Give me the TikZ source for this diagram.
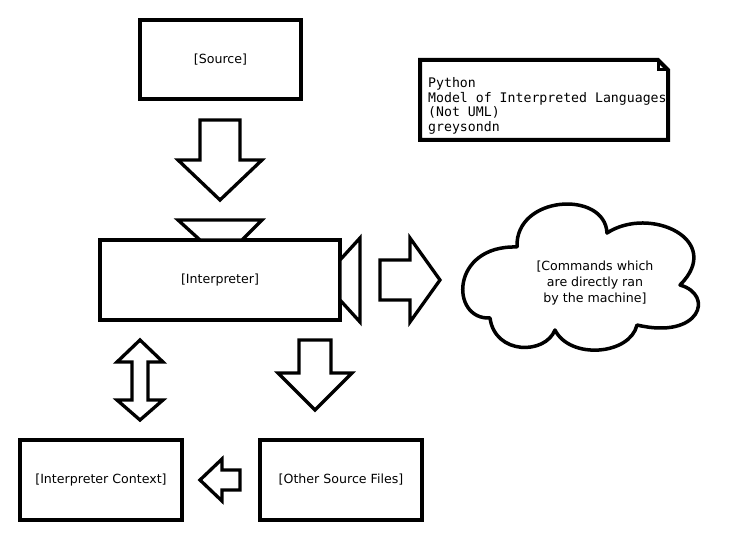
\documentclass[tikz,border=0pt]{standalone}
\usepackage{fontspec}
\setmainfont{DejaVu Sans}
\newfontfamily\notefont{DejaVu Sans Mono}
\begin{document}
\begin{tikzpicture}[x=1pt,y=-1pt,
  box/.style={draw,line width=4pt,minimum width=#1,inner sep=0pt,font=\fontsize{12.6}{15.5}\selectfont},
  blockarrow/.style={draw,line width=3.3pt,line join=miter,fill=white},
  lbl/.style={font=\fontsize{12.6}{15.8}\selectfont,align=center,inner sep=0pt}]
\useasboundingbox (0,0) rectangle (740,540);
% boxes
\node[box=161pt,minimum height=79pt] (source) at (220.5,59.5) {[Source]};
\node[box=240pt,minimum height=80pt] (interp) at (220,280) {[Interpreter]};
\node[box=162pt,minimum height=80pt] (context) at (101,480) {[Interpreter Context]};
\node[box=162pt,minimum height=80pt] (other) at (341,480) {[Other Source Files]};
% trapezoid ports on interpreter
\draw[blockarrow] (178,220) -- (262,220) -- (242,240) -- (200,240) -- cycle;
\draw[blockarrow] (340,260) -- (360,238) -- (360,322) -- (340,300) -- cycle;
% arrow source -> interpreter
\draw[blockarrow] (200,120) -- (240,120) -- (240,160) -- (262,160) -- (220,200) -- (178,160) -- (200,160) -- cycle;
% arrow interpreter -> cloud
\draw[blockarrow] (380,260) -- (410,260) -- (410,238) -- (440,280) -- (410,322) -- (410,300) -- (380,300) -- cycle;
% double arrow interpreter <-> context
\draw[blockarrow] (140,340) -- (163,362) -- (148,362) -- (148,400) -- (163,400) -- (140,420) -- (117,400) -- (132,400) -- (132,362) -- (117,362) -- cycle;
% arrow interpreter -> other
\draw[blockarrow] (299,340) -- (331,340) -- (331,373) -- (352,373) -- (315,410) -- (278,373) -- (299,373) -- cycle;
% arrow other -> context
\draw[blockarrow] (240,470) -- (222,470) -- (222,459) -- (200,480) -- (222,501) -- (222,490) -- (240,490) -- cycle;
% cloud
\draw[line width=3.5pt,line join=round]
  (517,247) .. controls (515,195) and (605,190) .. (607,233)
  .. controls (650,205) and (725,240) .. (680,285)
  .. controls (715,295) and (700,340) .. (637,325)
  .. controls (630,355) and (570,360) .. (555,330)
  .. controls (545,355) and (495,355) .. (490,318)
  .. controls (450,320) and (450,245) .. (517,247) -- cycle;
\node[lbl] (cloud) at (595,283) {[Commands which\\are directly ran\\by the machine]};
% note
\draw[line width=4pt,line join=miter] (420,60) -- (658,60) -- (668,70) -- (668,140) -- (420,140) -- cycle;
\draw[line width=3pt] (658,60) -- (658,70) -- (668,70);
\node[anchor=north west,align=left,inner sep=0pt,font=\notefont\fontsize{13.2}{14.5}\selectfont] (note) at (428,77.5) {Python\\Model of Interpreted Languages\\(Not UML)\\greysondn};
\end{tikzpicture}
\end{document}
